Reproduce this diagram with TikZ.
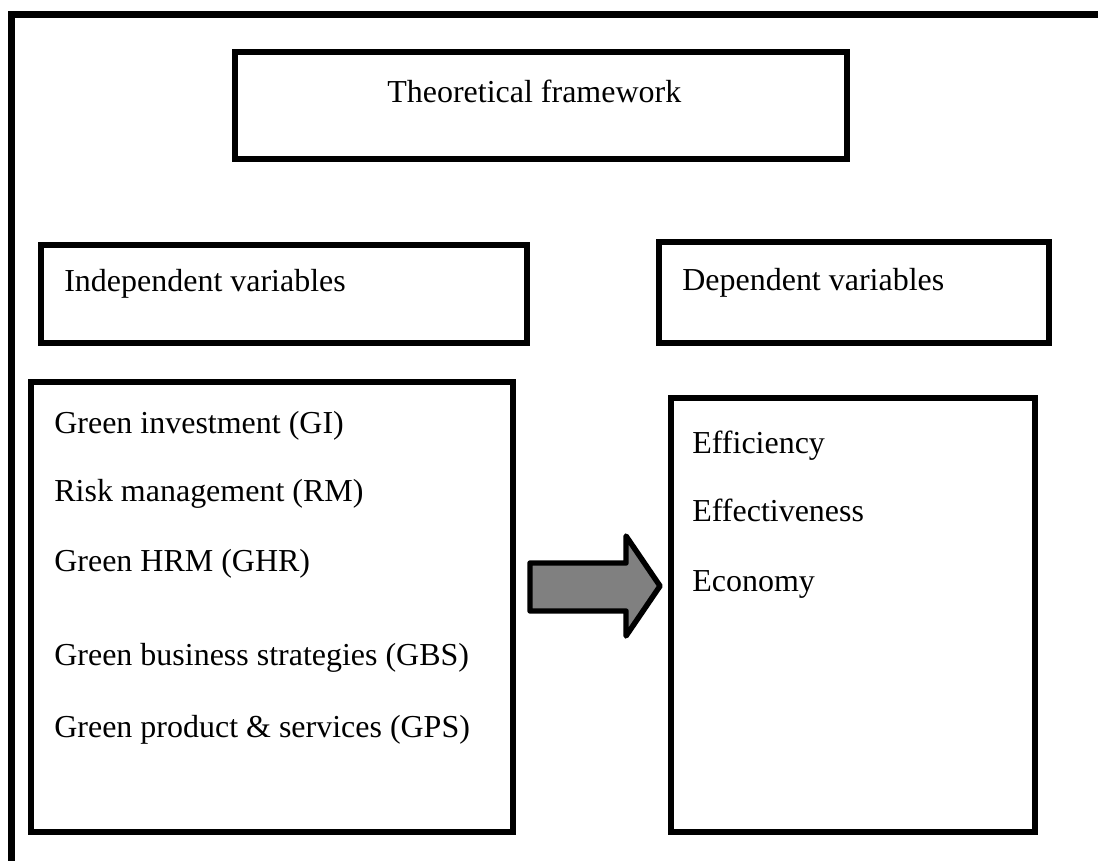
\documentclass[tikz,border=0pt]{standalone}
\usepackage{fontspec}
\setmainfont{Liberation Serif}
\usetikzlibrary{fit}

\begin{document}
\begin{tikzpicture}[x=0.02cm,y=-0.02cm,
        box/.style={draw, line width=3.7pt, inner sep=0pt},
        txt/.style={anchor=base west, inner sep=0pt, font=\fontsize{18.2}{22}\selectfont}]
        \useasboundingbox (0,0) rectangle (1098,861);
        \draw [line width=3.9pt] (1100,14.5) -- (11.5,14.5) -- (11.5,865);
        %
        \node [box, fit={(235,52) (847,159)}] (title) {};
        \node [box, fit={(41,245) (527,343)}] (indep) {};
        \node [box, fit={(659,242) (1049,343)}] (dep) {};
        \node [box, fit={(31,382) (513,832)}] (indeplist) {};
        \node [box, fit={(671,398) (1035,832)}] (deplist) {};
        %
        \node [txt] (titletext) at (387,103) {Theoretical framework};
        \node [txt] (indeptext) at (64,292) {Independent variables};
        \node [txt] (deptext) at (682,291) {Dependent variables};
        %
        \node [txt] (gi) at (54,433) {Green investment (GI)};
        \node [txt] (rm) at (54,501) {Risk management (RM)};
        \node [txt] (ghr) at (54,571) {Green HRM (GHR)};
        \node [txt] (gbs) at (54,665) {Green business strategies (GBS)};
        \node [txt] (gps) at (54,737) {Green product \& services (GPS)};
        %
        \node [txt] (eff) at (692,453) {Efficiency};
        \node [txt] (effect) at (692,521) {Effectiveness};
        \node [txt] (econ) at (692,591) {Economy};
        %
        \draw [fill=black!50, line width=3.1pt, line join=round]
            (530,563) -- (626,563) -- (626,536) -- (660,586) -- (626,636) -- (626,611) -- (530,611) -- cycle;
\end{tikzpicture}
\end{document}
